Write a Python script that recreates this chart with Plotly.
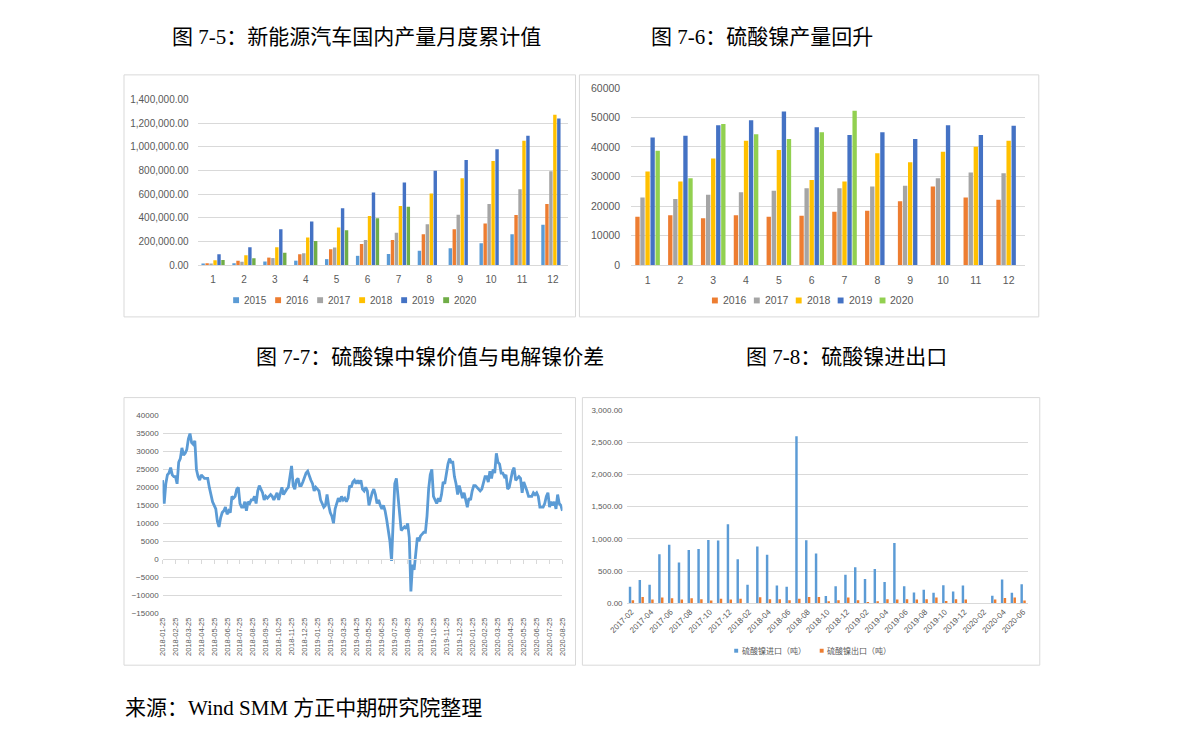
import plotly.graph_objects as go

W, H = 1191, 744


def px_x(p):
    return p / W


def px_y(p):
    return 1 - p / H


# ---------------- Panel 1: NEV domestic production, monthly cumulative ----------------
months_1 = ["1", "2", "3", "4", "5", "6", "7", "8", "9", "10", "11", "12"]
years_1 = ["2015", "2016", "2017", "2018", "2019", "2020"]
nev_2015 = [8000, 15000, 30000, 37000, 50000, 78000, 93000, 120000, 143000, 185000, 260000, 340000]
nev_2016 = [16000, 37000, 63000, 92000, 134000, 177000, 211000, 260000, 303000, 352000, 424000, 517000]
nev_2017 = [8000, 28000, 59000, 99000, 149000, 212000, 274000, 346000, 425000, 516000, 640000, 794000]
nev_2018 = [41000, 82000, 150000, 232000, 317000, 415000, 500000, 606000, 733000, 880000, 1051000, 1270000]
nev_2019 = [91000, 150000, 303000, 368000, 480000, 614000, 698000, 798000, 888000, 980000, 1093000, 1240000]
nev_2020 = [42000, 57000, 105000, 203000, 295000, 395000, 493000, None, None, None, None, None]
nev_series = [nev_2015, nev_2016, nev_2017, nev_2018, nev_2019, nev_2020]
colors_1 = ["#5B9BD5", "#ED7D31", "#A5A5A5", "#FFC000", "#4472C4", "#70AD47"]

# ---------------- Panel 2: nickel sulphate production ----------------
years_2 = ["2016", "2017", "2018", "2019", "2020"]
ns_2016 = [16400, 16900, 15900, 16900, 16400, 16700, 18100, 18400, 21600, 26600, 22900, 22100]
ns_2017 = [22900, 22400, 23800, 24700, 25200, 26000, 26000, 26600, 26900, 29400, 31400, 31100]
ns_2018 = [31700, 28300, 36100, 42100, 39000, 28800, 28300, 37900, 34800, 38400, 40100, 42100]
ns_2019 = [43200, 43800, 47400, 49100, 52000, 46700, 44100, 45000, 42700, 47400, 44100, 47200]
ns_2020 = [38700, 29400, 47800, 44300, 42700, 45000, 52300, None, None, None, None, None]
ns_series = [ns_2016, ns_2017, ns_2018, ns_2019, ns_2020]
colors_2 = ["#ED7D31", "#A5A5A5", "#FFC000", "#4472C4", "#92D050"]

# ---------------- Panel 3: nickel value in NiSO4 minus electrolytic nickel ----------------
spread_dates = [
    "2018-01-25", "2018-02-25", "2018-03-25", "2018-04-25", "2018-05-25", "2018-06-25",
    "2018-07-25", "2018-08-25", "2018-09-25", "2018-10-25", "2018-11-25", "2018-12-25",
    "2019-01-25", "2019-02-25", "2019-03-25", "2019-04-25", "2019-05-25", "2019-06-25",
    "2019-07-25", "2019-08-25", "2019-09-25", "2019-10-25", "2019-11-25", "2019-12-25",
    "2020-01-25", "2020-02-25", "2020-03-25", "2020-04-25", "2020-05-25", "2020-06-25",
    "2020-07-25", "2020-08-25",
]
# values sampled every 1/8 month starting 2018-01-25
spread = [
    22000, 15500, 21000, 23500, 24000, 25500, 23500, 23000, 23000, 21000,
    27000, 28000, 31000, 29000, 29500, 30500, 33500, 35000, 32500, 32000,
    33000, 25000, 23000, 22000, 23500, 23000, 22500, 22500, 22500, 20000,
    18000, 16000, 15000, 14000, 10500, 9000, 11500, 13000, 13500, 14500,
    12500, 13500, 13000, 17500, 17000, 17500, 19500, 20000, 15500, 14500,
    14500, 16000, 13500, 16000, 15500, 16500, 16500, 17500, 15500, 19000,
    20500, 19500, 18500, 16500, 17500, 17000, 17500, 18000, 17500, 16500,
    17500, 18500, 16500, 18000, 20000, 18000, 19000, 19500, 20000, 23500,
    26000, 20500, 19500, 22000, 22500, 20500, 20500, 21500, 23000, 24000,
    24500, 23000, 22000, 21000, 19000, 20000, 19500, 19000, 16500, 15500,
    14500, 15000, 18000, 15000, 13000, 12000, 10000, 14000, 15500, 17000,
    16000, 17500, 16500, 17000, 16000, 17000, 20500, 20000, 21500, 22000,
    21000, 22000, 21000, 22000, 19500, 19000, 20000, 19000, 15000, 17000,
    18500, 19500, 18000, 15500, 16500, 15000, 14000, 15000, 13500, 11000,
    8500, 5000, -500, 12000, 21000, 22500, 18000, 12000, 8000, 8500,
    9000, 8500, 10000, 6000, -9000, -1500, -3000, 1500, 6000, 5000,
    6500, 7000, 7500, 7500, 12000, 19500, 23500, 25000, 17500, 16500,
    15500, 17000, 16000, 18000, 21500, 21000, 24000, 26500, 28000, 27000,
    27000, 23000, 21000, 18000, 20500, 19000, 17000, 18500, 16500, 14500,
    17000, 16500, 19000, 20500, 20500, 20000, 19500, 19000, 19500, 21000,
    23000, 23000, 21500, 24500, 22500, 25000, 24000, 29500, 27000, 26500,
    24000, 24000, 23000, 23500, 19500, 20000, 22000, 24500, 25500, 22000,
    22500, 23000, 22500, 18500, 21500, 20500, 19000, 17500, 17500, 17500,
    18500, 18000, 18500, 17500, 14500, 14500, 14500, 15500, 17500, 18500,
    14500, 16000, 15000, 16000, 14000, 18000, 15500, 15000, 13500,
]
spread_t = [i / 8 for i in range(len(spread))]  # months since 2018-01-25

# ---------------- Panel 4: nickel sulphate imports / exports ----------------
trade_months = [
    "2017-02", "2017-03", "2017-04", "2017-05", "2017-06", "2017-07", "2017-08", "2017-09",
    "2017-10", "2017-11", "2017-12", "2018-01", "2018-02", "2018-03", "2018-04", "2018-05",
    "2018-06", "2018-07", "2018-08", "2018-09", "2018-10", "2018-11", "2018-12", "2019-01",
    "2019-02", "2019-03", "2019-04", "2019-05", "2019-06", "2019-07", "2019-08", "2019-09",
    "2019-10", "2019-11", "2019-12", "2020-01", "2020-02", "2020-03", "2020-04", "2020-05",
    "2020-06",
]
imports_t = [
    255, 362, 285, 759, 907, 632, 825, 841, 983, 973, 1228, 683, 285, 881, 754, 275,
    255, 2593, 978, 774, 112, 265, 443, 560, 377, 530, 331, 937, 265, 168, 209, 163,
    280, 183, 275, None, None, 117, 367, 163, 295,
]
exports_t = [
    46, 95, 56, 87, 76, 56, 76, 61, 41, 71, 56, 71, None, 92, 61, 61,
    46, 71, 97, 97, 31, 46, 87, 46, 20, 31, 61, 56, 61, 56, 61, 87,
    36, 61, 56, None, None, 56, 82, 87, 41,
]
trade_names = ["硫酸镍进口（吨）", "硫酸镍出口（吨）"]
colors_4 = ["#5B9BD5", "#ED7D31"]

titles = [
    "图 7-5：新能源汽车国内产量月度累计值",
    "图 7-6：硫酸镍产量回升",
    "图 7-7：硫酸镍中镍价值与电解镍价差",
    "图 7-8：硫酸镍进出口",
]
source_text = "来源：Wind SMM 方正中期研究院整理"

GRID = "#D9D9D9"
TXT = "#595959"
SANS = "Liberation Sans, Noto Sans CJK SC, sans-serif"
CJK = "Noto Sans CJK SC, Liberation Sans, sans-serif"
TITLE_FONT = "Liberation Serif, Noto Sans CJK SC, serif"

fig = go.Figure()

for name, vals, col in zip(years_1, nev_series, colors_1):
    fig.add_trace(go.Bar(x=months_1, y=vals, name=name, marker_color=col,
                         marker_line_width=0, xaxis="x", yaxis="y", showlegend=False))

for name, vals, col in zip(years_2, ns_series, colors_2):
    fig.add_trace(go.Bar(x=months_1, y=vals, name=name, marker_color=col,
                         marker_line_width=0, xaxis="x2", yaxis="y2", showlegend=False))

fig.add_trace(go.Scatter(x=spread_t, y=spread, mode="lines", name="价差",
                         line=dict(color="#5B9BD5", width=2.8), xaxis="x3", yaxis="y3",
                         showlegend=False))
fig.add_trace(go.Scatter(x=[None], y=[None], mode="lines", xaxis="x5", yaxis="y3",
                         showlegend=False, hoverinfo="skip"))

bw4 = 0.25
for i, (name, vals, col) in enumerate(zip(trade_names, [imports_t, exports_t], colors_4)):
    fig.add_trace(go.Bar(x=trade_months, y=vals, name=name, marker_color=col,
                         marker_line_width=0, width=bw4, offset=(-0.27 if i == 0 else 0.02),
                         xaxis="x4", yaxis="y4", showlegend=False))

# zero-line position of panel 3 in paper coords
p3_bot, p3_top = 617.0, 416.3
zero_px = p3_top + (40000 - 0) / 55000 * (p3_bot - p3_top)

fig.update_layout(
    width=W, height=H, autosize=False,
    margin=dict(l=0, r=0, t=0, b=0),
    paper_bgcolor="white", plot_bgcolor="white",
    barmode="group", bargap=0.23, bargroupgap=0.14,
    showlegend=False,
    xaxis=dict(domain=[px_x(183), px_x(560.7)], type="category", showgrid=False,
               showline=True, linecolor=GRID, ticks="", anchor="y",
               tickfont=dict(family=SANS, size=10, color=TXT), ticklabelstandoff=5),
    yaxis=dict(domain=[px_y(263.3), px_y(95)], range=[0, 1400000], dtick=200000,
               tickformat=",.2f", showgrid=True, gridcolor=GRID, zeroline=False,
               showline=False, ticks="", anchor="x",
               tickfont=dict(family=SANS, size=10, color=TXT), ticklabelstandoff=8),
    xaxis2=dict(domain=[px_x(624.7), px_x(1026)], type="category", showgrid=False,
                showline=True, linecolor=GRID, ticks="", anchor="y2",
                tickfont=dict(family=SANS, size=10.5, color=TXT), ticklabelstandoff=5),
    yaxis2=dict(domain=[px_y(263.3), px_y(83.3)], range=[0, 60000], dtick=10000,
                tickformat="d", showgrid=True, gridcolor=GRID, zeroline=False,
                showline=False, ticks="", anchor="x2",
                tickfont=dict(family=SANS, size=10.5, color=TXT), ticklabelstandoff=10),
    xaxis3=dict(domain=[px_x(147.3), px_x(554.7)], range=[0, 31], showgrid=False,
                tickmode="array", tickvals=list(range(len(spread_dates))), ticktext=spread_dates,
                tickangle=-90, ticks="", showline=False, zeroline=False, anchor="y3",
                tickfont=dict(family=SANS, size=7.5, color=TXT), ticklabelstandoff=2),
    xaxis5=dict(overlaying="x3", range=[0, 31], anchor="free", position=px_y(zero_px),
                tickmode="array", tickvals=list(range(len(spread_dates))),
                showticklabels=False, ticks="outside", ticklen=4, tickcolor=GRID,
                showline=True, linecolor=GRID, showgrid=False, zeroline=False),
    yaxis3=dict(domain=[px_y(p3_bot), px_y(p3_top)], range=[-15000, 40000], dtick=5000,
                tickformat="d", showgrid=True, gridcolor=GRID, zeroline=False,
                showline=False, ticks="", anchor="x3",
                tickfont=dict(family=SANS, size=8, color=TXT), ticklabelstandoff=3),
    xaxis4=dict(domain=[px_x(620), px_x(1029)], type="category", showgrid=False,
                tickmode="array", tickvals=trade_months[::2], tickangle=-45,
                showline=True, linecolor=GRID, ticks="", anchor="y4",
                tickfont=dict(family=SANS, size=8, color=TXT), ticklabelstandoff=0),
    yaxis4=dict(domain=[px_y(607), px_y(410.7)], range=[0, 3000], dtick=500,
                tickformat=",.2f", showgrid=True, gridcolor=GRID, zeroline=False,
                showline=False, ticks="", anchor="x4",
                tickfont=dict(family=SANS, size=8, color=TXT), ticklabelstandoff=3),
)

shapes = []
annotations = []

# panel frames
for (l, t, r, b) in [(108, 70, 568, 316), (572, 70, 1040, 316),
                     (108, 398, 568, 670), (575, 398, 1041, 670)]:
    shapes.append(dict(type="rect", xref="paper", yref="paper",
                       x0=px_x(l), x1=px_x(r), y0=px_y(b), y1=px_y(t),
                       line=dict(color=GRID, width=1), fillcolor="rgba(0,0,0,0)", layer="below"))


def legend_row(names, colors, x0, step, y, size, gap, fsize, family):
    for i, (n, c) in enumerate(zip(names, colors)):
        cx = x0 + i * step
        shapes.append(dict(type="rect", xref="paper", yref="paper",
                           x0=px_x(cx - size / 2), x1=px_x(cx + size / 2),
                           y0=px_y(y + size / 2), y1=px_y(y - size / 2),
                           fillcolor=c, line=dict(width=0)))
        annotations.append(dict(text=n, x=px_x(cx + gap), y=px_y(y), xref="paper", yref="paper",
                                xanchor="left", yanchor="middle", showarrow=False,
                                font=dict(family=family, size=fsize, color=TXT)))


legend_row(years_1, colors_1, 222.2, 42.8, 299, 6, 6, 10, SANS)
legend_row(years_2, colors_2, 710, 42.7, 299.3, 6, 6, 10.5, SANS)
legend_row(trade_names, colors_4, 731.7, 87.1, 655.3, 4, 3.5, 8, CJK)

# titles
for text, x, y in zip(titles, [155, 643, 240, 740], [32, 32, 357, 357]):
    annotations.append(dict(text=text, x=px_x(x), y=px_y(y), xref="paper", yref="paper",
                            xanchor="left", yanchor="middle", showarrow=False,
                            font=dict(family=TITLE_FONT, size=21, color="black")))
annotations.append(dict(text=source_text, x=px_x(107), y=px_y(714), xref="paper", yref="paper",
                        xanchor="left", yanchor="middle", showarrow=False,
                        font=dict(family=TITLE_FONT, size=21, color="black")))

fig.update_layout(shapes=shapes, annotations=annotations)

fig.write_html("out.html",
               post_script="document.body.style.margin='0';document.body.style.overflow='hidden';")
